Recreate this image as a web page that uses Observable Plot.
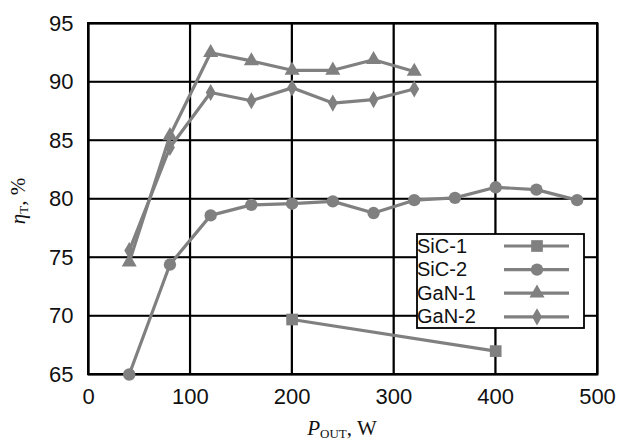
<!DOCTYPE html>
<html>
<head>
<meta charset="utf-8">
<script src="https://cdn.jsdelivr.net/npm/d3@7"></script>
<script src="https://cdn.jsdelivr.net/npm/@observablehq/plot@0.6"></script>
<style>
  html, body { margin: 0; padding: 0; background: #fff; }
  #chart svg { display: block; }
</style>
</head>
<body>
<div id="chart"></div>
<script>
// ---- data ----
const seriesNames = ["SiC-1", "SiC-2", "GaN-1", "GaN-2"];
const symbols = ["square", "circle", "triangle", "diamond"];

const sic1X = [200, 400];
const sic1Y = [69.7, 67.0];

const sic2X = [40, 80, 120, 160, 200, 240, 280, 320, 360, 400, 440, 480];
const sic2Y = [65.0, 74.4, 78.6, 79.5, 79.6, 79.8, 78.8, 79.9, 80.1, 81.0, 80.8, 79.9];

const gan1X = [40, 80, 120, 160, 200, 240, 280, 320];
const gan1Y = [74.6, 85.4, 92.5, 91.8, 91.0, 91.0, 91.9, 90.9];

const gan2X = [40, 80, 120, 160, 200, 240, 280, 320];
const gan2Y = [75.6, 84.4, 89.1, 88.4, 89.5, 88.2, 88.5, 89.4];

const xTicks = [0, 100, 200, 300, 400, 500];
const yTicks = [65, 70, 75, 80, 85, 90, 95];

// build table
const xs = [sic1X, sic2X, gan1X, gan2X];
const ys = [sic1Y, sic2Y, gan1Y, gan2Y];
const data = [];
seriesNames.forEach((s, i) => xs[i].forEach((x, j) => data.push({series: s, x, y: ys[i][j]})));

const gray = "#808080";
const symR = {"square": 6.6, "circle": 6.2, "triangle": 5.6, "diamond": 5.2};

const marks = [
  Plot.ruleX(xTicks, {stroke: "black", strokeWidth: 1.7}),
  Plot.ruleY(yTicks, {stroke: "black", strokeWidth: 1.7}),
  Plot.frame({stroke: "black", strokeWidth: 2}),
  Plot.line(data, {x: "x", y: "y", z: "series", stroke: gray, strokeWidth: 3.2})
];
seriesNames.forEach((s, i) => {
  marks.push(Plot.dot(data.filter(d => d.series === s), {
    x: "x", y: "y", symbol: symbols[i], r: symR[symbols[i]],
    fill: gray, stroke: "none"
  }));
});
marks.push(Plot.axisX(xTicks, {tickSize: 0, tickPadding: 14, fontSize: 22, label: null}));
marks.push(Plot.axisY(yTicks, {tickSize: 0, tickPadding: 15, fontSize: 22, label: null}));

const chart = Plot.plot({
  width: 619,
  height: 441,
  marginLeft: 88,
  marginRight: 22,
  marginTop: 23,
  marginBottom: 67,
  style: {fontFamily: "'Liberation Sans', Arial, sans-serif", color: "#111", background: "#fff"},
  x: {domain: [0, 500]},
  y: {domain: [65, 95]},
  marks
});

const svg = d3.select(chart);
const serif = "'Liberation Serif', 'Times New Roman', serif";

// grid and frame placed through the chart's own scales, beneath the data lines
const sx = chart.scale("x"), sy = chart.scale("y");
const x0 = sx.apply(xTicks[0]), x1 = sx.apply(xTicks[xTicks.length - 1]);
const y0 = sy.apply(yTicks[0]), y1 = sy.apply(yTicks[yTicks.length - 1]);
const lineG = chart.querySelector('g[aria-label="line"]');
const grid = d3.create("svg:g").attr("stroke", "#000").attr("stroke-width", 1.7).attr("fill", "none");
xTicks.forEach(v => grid.append("line").attr("x1", sx.apply(v)).attr("x2", sx.apply(v)).attr("y1", y1).attr("y2", y0));
yTicks.forEach(v => grid.append("line").attr("y1", sy.apply(v)).attr("y2", sy.apply(v)).attr("x1", x0).attr("x2", x1));
grid.append("rect").attr("x", x0).attr("y", y1).attr("width", x1 - x0).attr("height", y0 - y1).attr("stroke-width", 2);
chart.insertBefore(grid.node(), lineG);

// axis titles
const xl = svg.append("text")
  .attr("x", 342).attr("y", 435)
  .attr("text-anchor", "middle")
  .attr("font-family", serif).attr("font-size", 21).attr("fill", "#111");
xl.append("tspan").attr("font-style", "italic").text("P");
xl.append("tspan").attr("font-size", 13).attr("dy", 3).text("OUT");
xl.append("tspan").attr("dy", -3).text(", W");

const yl = svg.append("text")
  .attr("transform", "translate(25,201) rotate(-90)")
  .attr("text-anchor", "middle")
  .attr("font-family", serif).attr("font-size", 21).attr("fill", "#111");
yl.append("tspan").attr("font-style", "italic").text("η");
yl.append("tspan").attr("font-size", 13).attr("dy", 3).text("T");
yl.append("tspan").attr("dy", -3).text(", %");

// legend
const lg = svg.append("g");
lg.append("rect").attr("x", 417).attr("y", 234).attr("width", 167).attr("height", 94)
  .attr("fill", "#fff").attr("stroke", "#000").attr("stroke-width", 1.8);
seriesNames.forEach((s, i) => {
  const cy = 246 + i * 23.6;
  lg.append("text").attr("x", 417).attr("y", cy + 6.5)
    .attr("text-anchor", "start")
    .attr("font-family", "'Liberation Sans', Arial, sans-serif").attr("font-size", 20)
    .attr("fill", "#111").text(s);
  lg.append("line").attr("x1", 504).attr("x2", 569).attr("y1", cy).attr("y2", cy)
    .attr("stroke", gray).attr("stroke-width", 3.2);
  const sym = {square: d3.symbolSquare, circle: d3.symbolCircle, triangle: d3.symbolTriangle, diamond: d3.symbolDiamond}[symbols[i]];
  const r = symR[symbols[i]];
  lg.append("path").attr("transform", `translate(537,${cy})`)
    .attr("d", d3.symbol(sym, Math.PI * r * r)())
    .attr("fill", gray);
});

document.getElementById("chart").appendChild(chart);
</script>
</body>
</html>
